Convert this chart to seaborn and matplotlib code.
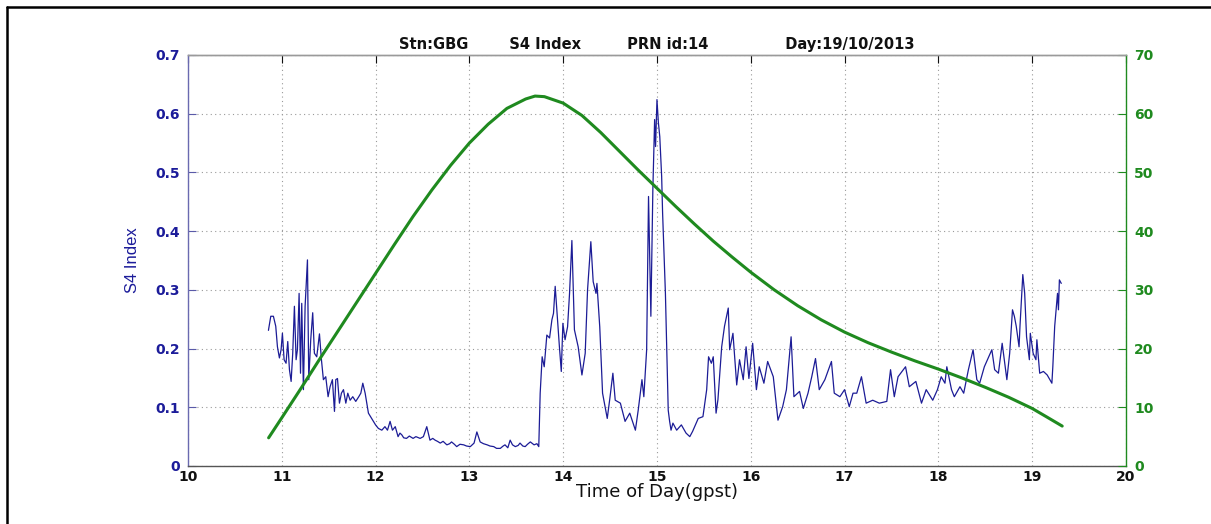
import pandas as pd
import matplotlib
matplotlib.use("Agg")
import matplotlib.pyplot as plt
import seaborn as sns
from matplotlib.lines import Line2D
from matplotlib.ticker import FuncFormatter

# S4 index (left axis), in three stretches
s4_time_a = [
    10.858, 10.883, 10.911, 10.936, 10.954, 10.975, 10.993, 11.007, 11.025, 11.046,
    11.064, 11.082, 11.100, 11.117, 11.135, 11.153, 11.167, 11.185, 11.200, 11.213,
    11.231, 11.249, 11.274, 11.288, 11.309, 11.330, 11.348, 11.373, 11.402, 11.423,
    11.444, 11.469, 11.494, 11.515, 11.540, 11.562, 11.576, 11.594, 11.615, 11.636,
    11.658, 11.683, 11.704, 11.729, 11.757, 11.789, 11.821, 11.843, 11.864, 11.889,
    11.924, 11.970, 12.000, 12.030, 12.067, 12.100, 12.127, 12.155, 12.180, 12.210,
]
s4_value_a = [
    0.231, 0.255, 0.255, 0.238, 0.203, 0.184, 0.198, 0.226, 0.181, 0.175,
    0.212, 0.164, 0.144, 0.192, 0.272, 0.181, 0.198, 0.294, 0.158, 0.277,
    0.130, 0.272, 0.351, 0.147, 0.215, 0.261, 0.192, 0.186, 0.225, 0.181,
    0.147, 0.152, 0.118, 0.135, 0.147, 0.093, 0.147, 0.149, 0.107, 0.124,
    0.130, 0.107, 0.124, 0.112, 0.118, 0.110, 0.118, 0.124, 0.141, 0.124,
    0.090, 0.078, 0.070, 0.064, 0.061, 0.067, 0.061, 0.076, 0.061, 0.067,
]
s4_time_b = [
    12.240, 12.260, 12.280, 12.300, 12.330, 12.360, 12.400, 12.430, 12.475, 12.510,
    12.546, 12.580, 12.610, 12.635, 12.660, 12.690, 12.720, 12.760, 12.790, 12.810,
    12.840, 12.865, 12.900, 12.940, 12.970, 13.010, 13.050, 13.080, 13.115, 13.150,
    13.190, 13.220, 13.260, 13.290, 13.330, 13.360, 13.380, 13.410, 13.435, 13.460,
    13.490, 13.520, 13.540, 13.570, 13.595, 13.620, 13.650, 13.690, 13.720, 13.740,
]
s4_value_b = [
    0.050, 0.056, 0.053, 0.048, 0.047, 0.051, 0.047, 0.050, 0.047, 0.050,
    0.067, 0.044, 0.047, 0.044, 0.042, 0.039, 0.042, 0.036, 0.038, 0.041,
    0.037, 0.033, 0.037, 0.036, 0.034, 0.033, 0.039, 0.058, 0.041, 0.038,
    0.036, 0.034, 0.033, 0.030, 0.030, 0.034, 0.036, 0.031, 0.044, 0.036,
    0.033, 0.035, 0.039, 0.034, 0.033, 0.037, 0.041, 0.036, 0.038, 0.033,
]
s4_time_c = [
    13.755,
    13.776, 13.798, 13.826, 13.855, 13.880, 13.897, 13.915, 13.940, 13.960, 13.980,
    13.997, 14.020, 14.047, 14.068, 14.093, 14.120, 14.160, 14.200, 14.235, 14.260,
    14.295, 14.320, 14.350, 14.360, 14.390, 14.420, 14.470, 14.500, 14.530, 14.555,
    14.610, 14.660, 14.710, 14.770, 14.800, 14.840, 14.860, 14.890, 14.910, 14.930,
    14.935, 14.956, 14.975, 14.985, 15.000, 15.015, 15.030, 15.050, 15.060, 15.090,
    15.120, 15.135, 15.150, 15.170, 15.210, 15.260, 15.310, 15.350, 15.380, 15.440,
    15.490, 15.530, 15.550, 15.580, 15.600, 15.630, 15.650, 15.690, 15.720, 15.760,
    15.775, 15.810, 15.850, 15.880, 15.920, 15.950, 15.980, 16.020, 16.060, 16.090,
    16.140, 16.180, 16.240, 16.290, 16.340, 16.380, 16.430, 16.460, 16.520, 16.560,
    16.610, 16.650, 16.690, 16.730, 16.790, 16.860, 16.890, 16.950, 17.000, 17.050,
    17.090, 17.130, 17.180, 17.230, 17.300, 17.370, 17.450, 17.490, 17.530, 17.570,
    17.650, 17.690, 17.760, 17.820, 17.870, 17.940, 17.990, 18.030, 18.070, 18.090,
    18.140, 18.170, 18.230, 18.270, 18.320, 18.370, 18.410, 18.440, 18.490, 18.570,
    18.600, 18.640, 18.680, 18.730, 18.760, 18.790, 18.810, 18.830, 18.860, 18.870,
    18.900, 18.920, 18.940, 18.970, 18.980, 19.010, 19.040, 19.050, 19.080, 19.120,
    19.160, 19.210, 19.220, 19.240, 19.270, 19.280, 19.290, 19.310,
]
s4_value_c = [
    0.124,
    0.186, 0.169, 0.223, 0.218, 0.249, 0.260, 0.306, 0.249, 0.203, 0.161,
    0.243, 0.215, 0.237, 0.294, 0.384, 0.232, 0.203, 0.155, 0.192, 0.300,
    0.382, 0.314, 0.294, 0.311, 0.237, 0.124, 0.081, 0.118, 0.158, 0.112,
    0.107, 0.076, 0.090, 0.061, 0.095, 0.147, 0.118, 0.198, 0.459, 0.294,
    0.255, 0.470, 0.590, 0.544, 0.624, 0.585, 0.561, 0.493, 0.431, 0.294,
    0.095, 0.076, 0.061, 0.073, 0.061, 0.070, 0.056, 0.050, 0.059, 0.081,
    0.084, 0.130, 0.186, 0.175, 0.186, 0.090, 0.113, 0.203, 0.238, 0.269,
    0.198, 0.226, 0.138, 0.181, 0.147, 0.203, 0.149, 0.209, 0.130, 0.169,
    0.141, 0.178, 0.152, 0.078, 0.101, 0.130, 0.220, 0.118, 0.127, 0.098,
    0.124, 0.152, 0.183, 0.130, 0.147, 0.178, 0.124, 0.118, 0.130, 0.101,
    0.124, 0.124, 0.152, 0.107, 0.112, 0.107, 0.110, 0.164, 0.118, 0.152,
    0.169, 0.135, 0.144, 0.107, 0.130, 0.112, 0.130, 0.152, 0.141, 0.169,
    0.130, 0.118, 0.135, 0.124, 0.164, 0.198, 0.147, 0.141, 0.169, 0.198,
    0.164, 0.158, 0.209, 0.147, 0.192, 0.266, 0.255, 0.238, 0.203, 0.238,
    0.326, 0.294, 0.220, 0.181, 0.226, 0.192, 0.181, 0.215, 0.158, 0.161,
    0.155, 0.141, 0.169, 0.238, 0.294, 0.266, 0.317, 0.311,
]

# satellite elevation in degrees (right axis)
elev_time = [
    10.86, 11.0, 11.2, 11.4, 11.6, 11.8, 12.0, 12.2, 12.4, 12.6,
    12.8, 13.0, 13.2, 13.4, 13.6, 13.7, 13.8, 14.0, 14.2, 14.4,
    14.6, 14.8, 15.0, 15.2, 15.4, 15.6, 15.8, 16.0, 16.25, 16.5,
    16.75, 17.0, 17.25, 17.5, 17.75, 18.0, 18.25, 18.5, 18.75, 19.0,
    19.15, 19.32,
]
elev_value = [
    4.8, 8.2, 13.1, 18.1, 23.0, 27.9, 32.8, 37.7, 42.5, 47.0,
    51.2, 55.0, 58.2, 60.9, 62.5, 63.0, 62.9, 61.8, 59.7, 56.8,
    53.6, 50.4, 47.3, 44.2, 41.2, 38.3, 35.6, 33.0, 30.0, 27.3,
    24.9, 22.8, 21.0, 19.4, 17.9, 16.5, 15.0, 13.4, 11.7, 9.8,
    8.4, 6.8,
]

x_ticks = list(range(10, 21))
s4_ticks = [0, 0.1, 0.2, 0.3, 0.4, 0.5, 0.6, 0.7]
elev_ticks = [0, 10, 20, 30, 40, 50, 60, 70]

blue = "#1c1c96"
green = "#1f8a1f"

sns.set_style("white")
plt.rcParams["font.family"] = ["DejaVu Sans"]

df_s4 = pd.DataFrame({"t": s4_time_a + s4_time_b + s4_time_c,
                      "s4": s4_value_a + s4_value_b + s4_value_c})
df_el = pd.DataFrame({"t": elev_time, "el": elev_value})

fig = plt.figure(figsize=(12.11, 5.24), dpi=100)
ax = fig.add_axes([0.1552, 0.1107, 0.7746, 0.7844])
ax2 = ax.twinx()

sns.lineplot(data=df_s4, x="t", y="s4", ax=ax, color=blue, linewidth=0.9, estimator=None)
sns.lineplot(data=df_el, x="t", y="el", ax=ax2, color=green, linewidth=2.2, estimator=None)

ax.set_xlim(10, 20)
ax.set_ylim(0, 0.7)
ax2.set_ylim(0, 70)
ax.set_xticks(x_ticks)
ax.set_yticks(s4_ticks)
ax2.set_yticks(elev_ticks)
ax.yaxis.set_major_formatter(FuncFormatter(lambda v, p: "0" if v == 0 else f"{v:.1f}"))

ax.grid(True, color="#9a9a9a", linestyle=(0, (1, 3)), linewidth=0.8)
ax.set_axisbelow(True)

ax.tick_params(axis="x", direction="in", length=6, colors="#111111", labelsize=10, top=True, pad=3)
ax.tick_params(axis="y", direction="in", length=6, colors="#5a5aa8", labelcolor="#1c1c9a", labelsize=10, pad=6)
ax2.tick_params(axis="y", direction="in", length=6, colors=green, labelcolor=green, labelsize=10, pad=6)
for lab in ax.get_xticklabels() + ax.get_yticklabels() + ax2.get_yticklabels():
    lab.set_fontweight("bold")

ax.spines["left"].set_color("#6a6ab0")
ax.spines["bottom"].set_color("#555555")
ax.spines["top"].set_color("#9a9a9a")
ax2.spines["right"].set_color(green)
ax2.spines["left"].set_visible(False)
ax2.spines["top"].set_color("#9a9a9a")
ax2.spines["bottom"].set_visible(False)
for sp in list(ax.spines.values()) + list(ax2.spines.values()):
    sp.set_linewidth(1.0)
ax.spines["right"].set_visible(False)

ax.set_xlabel("Time of Day(gpst)", fontsize=13, color="#111111", labelpad=-1)
ax.set_ylabel("S4 Index", fontsize=12, color="#1c1c9a", labelpad=11,
              family=["Liberation Sans Narrow", "Liberation Sans", "DejaVu Sans"])
ax2.set_ylabel("")
ax.set_title("Stn:GBG" + " " * 8 + "S4 Index" + " " * 9 + "PRN id:14" + " " * 15 + "Day:19/10/2013",
             fontsize=10.5, fontweight="bold", color="#111111", pad=4)

# outer frame of the figure
fig.add_artist(Line2D([6.5 / 1211, 6.5 / 1211], [0, 1 - 6.5 / 524], color="black", linewidth=1.8))
fig.add_artist(Line2D([6.5 / 1211, 1], [1 - 6.5 / 524, 1 - 6.5 / 524], color="black", linewidth=1.8))

fig.savefig("out.png", dpi=100, facecolor="white")
